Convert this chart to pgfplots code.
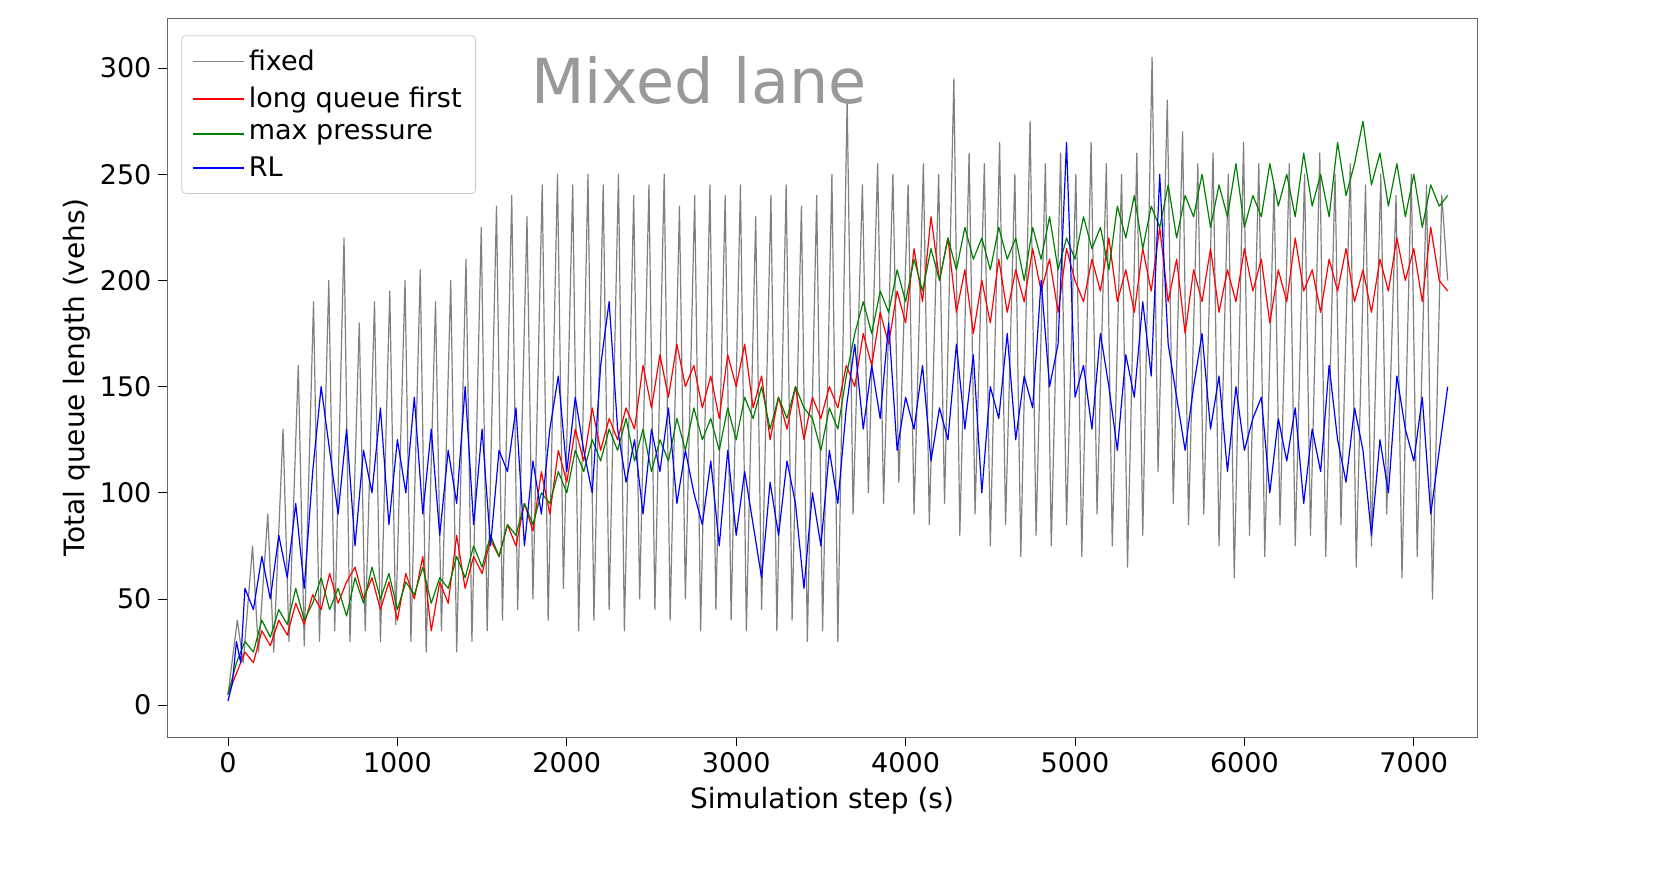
\documentclass[border=0pt]{standalone}
\usepackage{pgfplots}
\pgfplotsset{compat=1.18}
\usepackage{fontspec}
\setmainfont{DejaVu Sans}
\definecolor{mgreen}{RGB}{0,128,0}
\begin{document}
\begin{tikzpicture}
\useasboundingbox (-83.5pt,-71pt) rectangle (743.5pt,368.5pt);
\begin{axis}[
  at={(0,0)}, anchor=south west,
  scale only axis, width=655pt, height=359.5pt,
  xmin=-360, xmax=7373, ymin=-15, ymax=323.6,
  xtick={0,1000,...,7000}, ytick={0,50,...,300},
  xtick pos=bottom, ytick pos=left,
  /pgf/number format/assume math mode=true,
  /pgf/number format/1000 sep={},
  tick label style={font=\fontsize{13.5}{15}\selectfont},
  label style={font=\fontsize{14}{16}\selectfont},
  xlabel={Simulation step (s)}, ylabel={Total queue length (vehs)},
  ylabel style={yshift=-2pt},
  tick align=outside, tick style={black, thin},
  axis line style={black!60},
  legend style={at={(rel axis cs:0.011,0.976)}, anchor=north west, font=\fontsize{13.5}{17}\selectfont, draw=black!20, rounded corners=2pt, inner sep=5pt, row sep=3pt},
  legend cell align=left,
  legend image code/.code={\draw[#1, line width=0.9pt] (0pt,0pt) -- (0.9cm,0pt);},
  every axis plot/.append style={line width=0.6pt, line join=round},
]
\addplot[gray, no marks] coordinates {
(0,5)(55,40)(90,20)(145,75)(180,25)(235,90)(270,25)(325,130)(360,30)(415,160)(450,28)(505,190)(540,30)(595,200)(630,35)(685,220)(720,30)(775,180)(810,35)(865,190)(900,30)(955,195)(990,38)(1045,200)(1080,30)(1135,205)(1170,25)(1225,190)(1260,35)(1315,200)(1350,25)(1405,210)(1440,30)(1495,225)(1530,35)(1585,235)(1620,40)(1675,240)(1710,45)(1765,230)(1800,50)(1855,245)(1890,40)(1945,250)(1980,55)(2035,245)(2070,35)(2125,250)(2160,40)(2215,245)(2250,45)(2305,250)(2340,35)(2395,240)(2430,50)(2485,245)(2520,45)(2575,250)(2610,40)(2665,235)(2700,50)(2755,240)(2790,35)(2845,245)(2880,45)(2935,240)(2970,40)(3025,245)(3060,35)(3115,230)(3150,45)(3205,240)(3240,35)(3295,245)(3330,40)(3385,235)(3420,30)(3475,240)(3510,35)(3565,250)(3600,30)(3655,285)(3690,90)(3745,245)(3780,100)(3835,255)(3870,95)(3925,250)(3960,105)(4015,245)(4050,90)(4105,255)(4140,85)(4195,250)(4230,95)(4285,295)(4320,80)(4375,260)(4410,90)(4465,255)(4500,75)(4555,265)(4590,85)(4645,250)(4680,70)(4735,275)(4770,80)(4825,255)(4860,75)(4915,260)(4950,85)(5005,250)(5040,70)(5095,265)(5130,90)(5185,255)(5220,75)(5275,250)(5310,65)(5365,260)(5400,80)(5455,305)(5490,110)(5545,285)(5580,95)(5635,270)(5670,85)(5725,255)(5760,90)(5815,260)(5850,75)(5905,250)(5940,60)(5995,265)(6030,80)(6085,255)(6120,70)(6175,245)(6210,85)(6265,255)(6300,75)(6355,250)(6390,80)(6445,260)(6480,70)(6535,250)(6570,85)(6625,255)(6660,65)(6715,245)(6750,75)(6805,250)(6840,90)(6895,240)(6930,60)(6985,250)(7020,70)(7075,245)(7110,50)(7165,240)(7200,200)
};
\addlegendentry{fixed}
\addplot[red, no marks] coordinates {
(0,5)(50,15)(100,25)(150,20)(200,35)(250,28)(300,40)(350,33)(400,48)(450,38)(500,52)(550,45)(600,62)(650,48)(700,58)(750,65)(800,50)(850,60)(900,45)(950,58)(1000,40)(1050,62)(1100,50)(1150,70)(1200,35)(1250,58)(1300,48)(1350,80)(1400,55)(1450,70)(1500,62)(1550,78)(1600,70)(1650,85)(1700,75)(1750,95)(1800,82)(1850,110)(1900,90)(1950,120)(2000,105)(2050,130)(2100,115)(2150,140)(2200,120)(2250,135)(2300,125)(2350,140)(2400,130)(2450,160)(2500,140)(2550,165)(2600,145)(2650,170)(2700,150)(2750,160)(2800,140)(2850,155)(2900,135)(2950,165)(3000,150)(3050,170)(3100,140)(3150,155)(3200,125)(3250,145)(3300,130)(3350,150)(3400,125)(3450,145)(3500,135)(3550,150)(3600,140)(3650,160)(3700,150)(3750,175)(3800,160)(3850,185)(3900,170)(3950,195)(4000,180)(4050,215)(4100,190)(4150,230)(4200,200)(4250,220)(4300,185)(4350,205)(4400,175)(4450,200)(4500,180)(4550,210)(4600,185)(4650,205)(4700,190)(4750,215)(4800,195)(4850,210)(4900,185)(4950,215)(5000,200)(5050,190)(5100,210)(5150,195)(5200,220)(5250,190)(5300,205)(5350,185)(5400,215)(5450,195)(5500,225)(5550,190)(5600,210)(5650,175)(5700,205)(5750,190)(5800,215)(5850,185)(5900,205)(5950,190)(6000,215)(6050,195)(6100,210)(6150,180)(6200,205)(6250,190)(6300,220)(6350,195)(6400,205)(6450,185)(6500,210)(6550,195)(6600,215)(6650,190)(6700,205)(6750,185)(6800,210)(6850,195)(6900,220)(6950,200)(7000,215)(7050,190)(7100,225)(7150,200)(7200,195)
};
\addlegendentry{long queue first}
\addplot[mgreen, no marks] coordinates {
(0,5)(50,20)(100,30)(150,25)(200,40)(250,32)(300,45)(350,38)(400,55)(450,40)(500,48)(550,60)(600,45)(650,55)(700,42)(750,60)(800,48)(850,65)(900,50)(950,62)(1000,45)(1050,58)(1100,52)(1150,65)(1200,48)(1250,60)(1300,55)(1350,70)(1400,60)(1450,75)(1500,65)(1550,80)(1600,70)(1650,85)(1700,80)(1750,95)(1800,85)(1850,100)(1900,95)(1950,110)(2000,100)(2050,120)(2100,110)(2150,125)(2200,115)(2250,130)(2300,120)(2350,135)(2400,115)(2450,130)(2500,110)(2550,125)(2600,115)(2650,135)(2700,120)(2750,140)(2800,125)(2850,135)(2900,120)(2950,140)(3000,125)(3050,145)(3100,135)(3150,150)(3200,130)(3250,145)(3300,135)(3350,150)(3400,140)(3450,135)(3500,120)(3550,140)(3600,130)(3650,155)(3700,175)(3750,190)(3800,175)(3850,195)(3900,185)(3950,205)(4000,190)(4050,210)(4100,195)(4150,215)(4200,200)(4250,220)(4300,205)(4350,225)(4400,210)(4450,220)(4500,205)(4550,225)(4600,210)(4650,220)(4700,200)(4750,225)(4800,210)(4850,230)(4900,205)(4950,220)(5000,210)(5050,230)(5100,215)(5150,225)(5200,205)(5250,235)(5300,220)(5350,240)(5400,215)(5450,235)(5500,225)(5550,245)(5600,220)(5650,240)(5700,230)(5750,250)(5800,225)(5850,245)(5900,230)(5950,255)(6000,225)(6050,240)(6100,230)(6150,255)(6200,235)(6250,250)(6300,230)(6350,260)(6400,235)(6450,250)(6500,230)(6550,265)(6600,240)(6650,255)(6700,275)(6750,245)(6800,260)(6850,235)(6900,255)(6950,230)(7000,250)(7050,225)(7100,245)(7150,235)(7200,240)
};
\addlegendentry{max pressure}
\addplot[blue, no marks] coordinates {
(0,2)(25,10)(50,30)(75,20)(100,55)(150,45)(200,70)(250,50)(300,80)(350,60)(400,95)(450,55)(500,110)(550,150)(600,120)(650,90)(700,130)(750,75)(800,120)(850,100)(900,140)(950,85)(1000,125)(1050,100)(1100,145)(1150,90)(1200,130)(1250,80)(1300,120)(1350,95)(1400,150)(1450,85)(1500,130)(1550,75)(1600,120)(1650,110)(1700,140)(1750,75)(1800,115)(1850,90)(1900,130)(1950,155)(2000,110)(2050,145)(2100,120)(2150,100)(2200,160)(2250,190)(2300,130)(2350,105)(2400,125)(2450,90)(2500,130)(2550,110)(2600,140)(2650,95)(2700,120)(2750,100)(2800,85)(2850,115)(2900,75)(2950,120)(3000,80)(3050,110)(3100,85)(3150,60)(3200,105)(3250,80)(3300,115)(3350,95)(3400,55)(3450,100)(3500,75)(3550,120)(3600,95)(3650,140)(3700,170)(3750,130)(3800,160)(3850,135)(3900,180)(3950,120)(4000,145)(4050,130)(4100,160)(4150,115)(4200,140)(4250,125)(4300,170)(4350,130)(4400,165)(4450,100)(4500,150)(4550,135)(4600,175)(4650,125)(4700,155)(4750,140)(4800,200)(4850,150)(4900,170)(4950,265)(5000,145)(5050,160)(5100,130)(5150,175)(5200,150)(5250,120)(5300,165)(5350,145)(5400,190)(5450,155)(5500,250)(5550,170)(5600,145)(5650,120)(5700,150)(5750,175)(5800,130)(5850,155)(5900,110)(5950,150)(6000,120)(6050,135)(6100,145)(6150,100)(6200,135)(6250,115)(6300,140)(6350,95)(6400,130)(6450,110)(6500,160)(6550,125)(6600,105)(6650,140)(6700,120)(6750,80)(6800,125)(6850,100)(6900,155)(6950,130)(7000,115)(7050,145)(7100,90)(7150,120)(7200,150)
};
\addlegendentry{RL}
\node[text=black!40, font=\fontsize{31}{34}\selectfont, anchor=center] at (axis cs:2780,294) {Mixed lane};
\end{axis}
\end{tikzpicture}
\end{document}
